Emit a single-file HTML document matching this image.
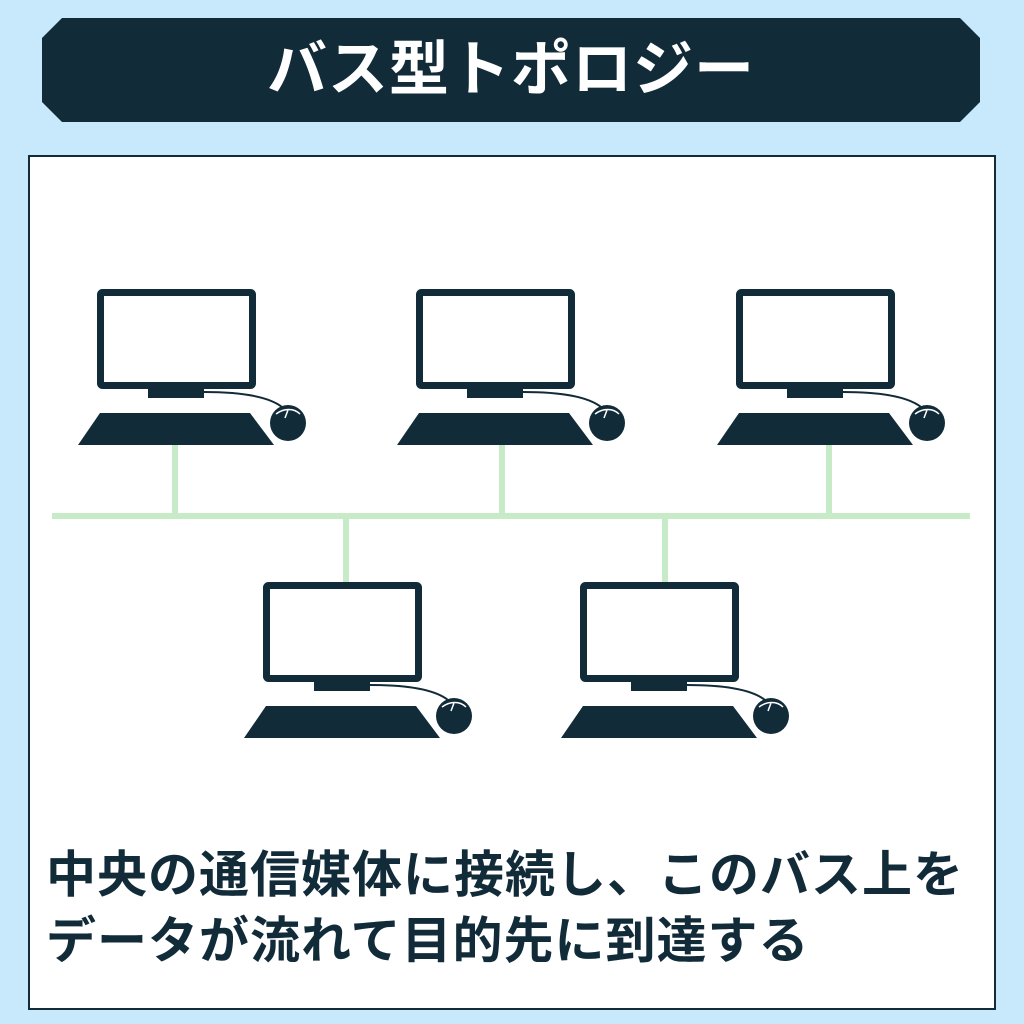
<!DOCTYPE html>
<html><head><meta charset="utf-8"><style>
html,body{margin:0;padding:0;width:1024px;height:1024px;background:#c8e8fc;overflow:hidden;font-family:"Liberation Sans","Noto Sans CJK JP",sans-serif}
.banner{position:absolute;left:42px;top:18px;width:938px;height:104px;background:#112b39;clip-path:polygon(20px 0,918px 0,938px 20px,938px 84px,918px 104px,20px 104px,0 84px,0 20px);color:#fff;font-weight:bold;font-size:60px;text-align:center;line-height:104px;letter-spacing:1px}
.panel{position:absolute;left:28px;top:155px;width:964px;height:851px;background:#fff;border:2px solid #112b39}
.txt{position:absolute;left:46px;top:842px;font-size:50px;font-weight:bold;color:#112b39;line-height:66px;letter-spacing:1px;white-space:nowrap}
</style></head><body>
<div class="banner">バス型トポロジー</div>
<div class="panel"></div>
<svg width="1024" height="1024" style="position:absolute;left:0;top:0">
<defs>
<g id="pc">
<rect x="100.5" y="292.5" width="152" height="93" fill="#fff" stroke="#112b39" stroke-width="7" rx="2"/>
<rect x="148" y="388" width="56" height="10" fill="#112b39"/>
<path d="M204 392 C240 392 268 396 282 407" fill="none" stroke="#112b39" stroke-width="2"/>
<polygon points="100,413 250,413 274,445 78,445" fill="#112b39"/>
<circle cx="288" cy="423" r="18" fill="#112b39"/>
<path d="M276 414 C284 408 294 408 300 414 M288 410 L285 418" fill="none" stroke="#fff" stroke-width="1.5"/>
</g>
</defs>
<g stroke="#c6ebc6" stroke-width="6">
<line x1="52" y1="516" x2="970" y2="516"/>
<line x1="175" y1="445" x2="175" y2="516"/>
<line x1="502" y1="445" x2="502" y2="516"/>
<line x1="829" y1="445" x2="829" y2="516"/>
<line x1="346" y1="516" x2="346" y2="582"/>
<line x1="665" y1="516" x2="665" y2="582"/>
</g>
<use href="#pc"/>
<use href="#pc" transform="translate(319,0)"/>
<use href="#pc" transform="translate(639,0)"/>
<use href="#pc" transform="translate(166,293)"/>
<use href="#pc" transform="translate(483,293)"/>
</svg>
<div class="txt">中央の通信媒体に接続し、このバス上を<br>データが流れて目的先に到達する</div>
</body></html>
